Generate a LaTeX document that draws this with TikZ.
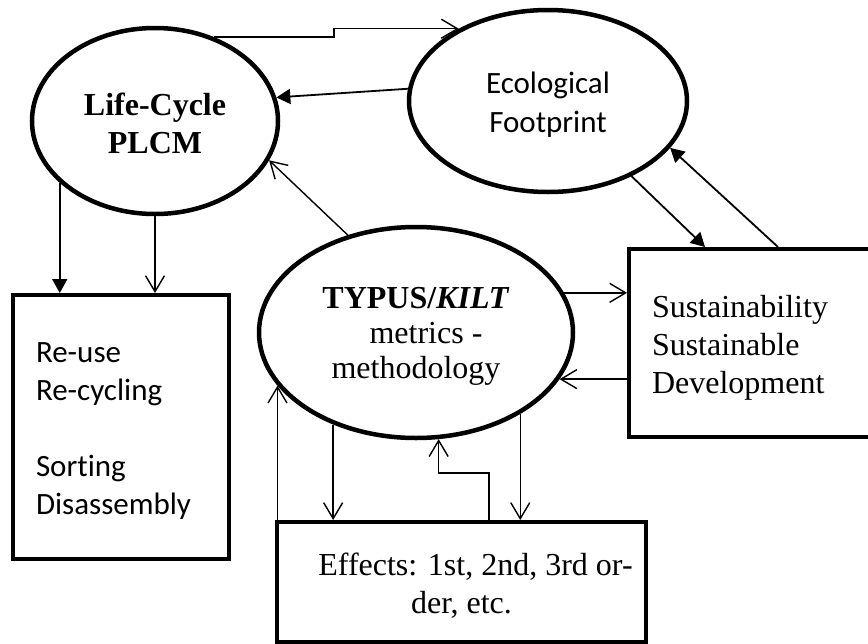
\documentclass[tikz,border=0pt]{standalone}
\usepackage{fontspec}
\setmainfont{Liberation Serif}
\newfontfamily\calibrifont[Ligatures=NoCommon]{Carlito}
\usepackage{tikz}
\usetikzlibrary{positioning,shapes.geometric,arrows.meta}
\tikzset{
  figfont/.style={font=\fontsize{32}{38}\selectfont},
  figsans/.style={font=\calibrifont\fontsize{31}{39}\selectfont},
  figellipse/.style={draw, ellipse, line width=4.5pt, inner sep=0pt, align=center, text depth=8pt},
  figbox/.style={draw, rectangle, line width=4pt, inner sep=0pt},
  figarrow/.style={-{Straight Barb[length=16pt,width=19pt]}, line width=1.4pt},
  figarrowfilled/.style={-{Triangle[length=14pt,width=15pt]}, line width=1.8pt},
}

\begin{document}
\begin{tikzpicture}[figfont, x=1pt, y=-1pt]
  \useasboundingbox (0,0) rectangle (868,643);

  % Ellipses
  \node[figellipse, minimum width=246pt, minimum height=186pt, text height=72pt] (life) at (155,121)
    {\textbf{Life-Cycle}\\\textbf{PLCM}};
  \node[figellipse, figsans, minimum width=278pt, minimum height=182pt, text height=71pt] (eco) at (548,101)
    {Ecological\\Footprint};
  \node[figellipse, font=\fontsize{32}{35}\selectfont, minimum width=314pt, minimum height=211pt,
    text height=99pt] (typus) at (416,332.5)
    {\textbf{TYPUS/\textit{KILT}}\\ \hspace*{20pt}metrics -\\methodology};

  % Boxes
  \node[figbox, font=\calibrifont\fontsize{31}{38}\selectfont, minimum width=216pt, minimum height=264pt,
    text width=170pt, text height=20pt, text depth=150pt, align=left] (reuse) at (121,427)
    {Re-use\\Re-cycling\\[38pt]Sorting\\Disassembly};
  \node[figbox, minimum width=271pt, minimum height=188pt, text width=225pt, text height=22pt,
    text depth=74pt, align=left] (sust) at (764.5,343)
    {Sustainability\\Sustainable\\Development};
  \node[figbox, minimum width=369pt, minimum height=120pt, text height=70pt, text depth=8pt,
    align=center] (effects) at (461.5,582)
    {\hspace*{28pt}Effects: 1st, 2nd, 3rd or-\\der, etc.};

  % Life-Cycle and Ecological Footprint
  \draw[figarrow] (life.55) -- ++(120,0) |- (eco.141);
  \draw[figarrowfilled] (eco.175) -- (life.11);
  \draw[figarrow] (typus.125) -- (life.-19);

  % Life-Cycle to Re-use
  \draw[figarrowfilled] (life.213) -- (life.213 |- reuse.north);
  \draw[figarrow] (life.south) -- (life.south |- reuse.north);

  % Ecological Footprint and Sustainability
  \draw[figarrowfilled] (eco.-42) -- ([xshift=78pt]sust.north west);
  \draw[figarrowfilled] ([xshift=151pt]sust.north west) -- (eco.-21);

  % TYPUS and Sustainability
  \draw[figarrow] (typus.15) -- (typus.15 -| sust.west);
  \draw[figarrow] (sust.west |- typus.-18) -- (typus.-18);

  % TYPUS and Effects
  \draw[figarrow] (typus.201 |- effects.north) -- (typus.201);
  \draw[figarrow] (typus.228) -- (typus.228 |- effects.north);
  \draw[figarrow] (typus.-38) -- (typus.-38 |- effects.north);
  \draw[figarrow] ([xshift=27.5pt]effects.north) -- ++(0,-47) -| (typus.-78);
\end{tikzpicture}
\end{document}
